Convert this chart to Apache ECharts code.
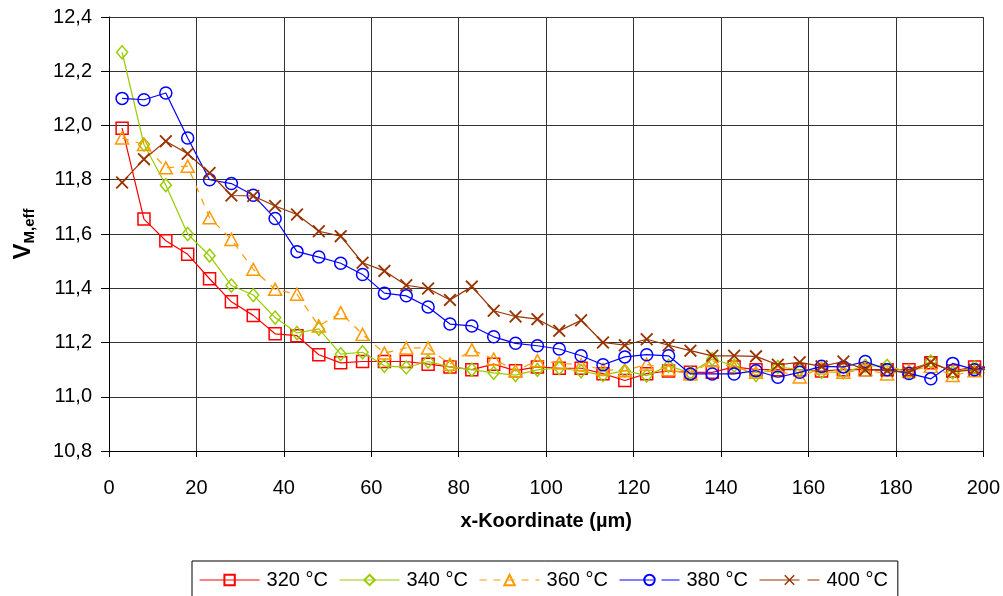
<!DOCTYPE html>
<html>
<head>
<meta charset="utf-8">
<script src="https://cdn.jsdelivr.net/npm/echarts@6/dist/echarts.min.js"></script>
<style>
  html, body { margin: 0; padding: 0; background: #fff; }
  #chart { width: 1003px; height: 596px; }
</style>
</head>
<body>
<div id="chart"></div>
<script>
// Effective molar volume along the x coordinate for five temperatures
const xPositions = [3, 8, 13, 18, 23, 28, 33, 38, 43, 48, 53, 58, 63, 68, 73, 78, 83, 88, 93, 98,
  103, 108, 113, 118, 123, 128, 133, 138, 143, 148, 153, 158, 163, 168, 173, 178, 183, 188, 193, 198, 203];

const seriesNames = ['320 °C', '340 °C', '360 °C', '380 °C', '400 °C'];

const v320 = [11.99, 11.655, 11.575, 11.525, 11.435, 11.35, 11.30, 11.232, 11.225, 11.155,
  11.125, 11.13, 11.13, 11.13, 11.12, 11.11, 11.10, 11.12, 11.096, 11.11,
  11.105, 11.105, 11.085, 11.06, 11.085, 11.095, 11.09, 11.09, 11.11, 11.10,
  11.10, 11.10, 11.095, 11.10, 11.10, 11.10, 11.10, 11.125, 11.095, 11.11, 11.11];

const v340 = [12.27, 11.93, 11.78, 11.60, 11.52, 11.41, 11.375, 11.292, 11.235, 11.25,
  11.157, 11.164, 11.114, 11.108, 11.13, 11.11, 11.10, 11.088, 11.08, 11.099,
  11.106, 11.094, 11.08, 11.096, 11.078, 11.114, 11.088, 11.139, 11.115, 11.08,
  11.11, 11.10, 11.092, 11.09, 11.114, 11.114, 11.09, 11.13, 11.09, 11.108, 11.10];

const v360 = [11.954, 11.93, 11.844, 11.85, 11.66, 11.58, 11.47, 11.396, 11.378, 11.261,
  11.31, 11.23, 11.161, 11.18, 11.18, 11.12, 11.173, 11.139, 11.096, 11.133,
  11.124, 11.118, 11.10, 11.096, 11.12, 11.10, 11.084, 11.133, 11.108, 11.09,
  11.096, 11.073, 11.106, 11.09, 11.10, 11.084, 11.096, 11.112, 11.078, 11.096, 11.08];

const v380 = [12.10, 12.095, 12.12, 11.954, 11.80, 11.786, 11.743, 11.657, 11.535, 11.515,
  11.492, 11.451, 11.382, 11.372, 11.331, 11.268, 11.261, 11.221, 11.197, 11.188,
  11.176, 11.151, 11.118, 11.147, 11.155, 11.151, 11.084, 11.084, 11.084, 11.096,
  11.072, 11.09, 11.112, 11.11, 11.13, 11.10, 11.086, 11.066, 11.123, 11.10, 11.115];

const v400 = [11.79, 11.876, 11.942, 11.896, 11.825, 11.742, 11.74, 11.703, 11.672, 11.61,
  11.592, 11.494, 11.464, 11.411, 11.399, 11.357, 11.406, 11.317, 11.296, 11.286,
  11.243, 11.282, 11.20, 11.19, 11.212, 11.19, 11.17, 11.151, 11.151, 11.149,
  11.118, 11.127, 11.112, 11.13, 11.10, 11.096, 11.09, 11.127, 11.092, 11.10, 11.10];

const xTicks = { min: 0, max: 200, step: 20 };
const yTicks = { min: 10.8, max: 12.4, step: 0.2 };

const FONT = 'Arial, "Liberation Sans", sans-serif';
const X_MARK = 'path://M0,1L1,0L5,4L9,0L10,1L6,5L10,9L9,10L5,6L1,10L0,9L4,5Z';

const styles = [
  { color: '#FF0000', symbol: 'rect', size: 12, dash: 'solid', legendDash: 'solid', hollow: true },
  { color: '#99CC00', symbol: 'diamond', size: [11, 13], dash: 'solid', legendDash: 'solid', hollow: true },
  { color: '#FF9900', symbol: 'triangle', size: [13, 12], dash: [7, 7], legendDash: [7, 7], hollow: true },
  { color: '#0000FF', symbol: 'circle', size: 12, dash: 'solid', legendDash: [34, 8], hollow: true },
  { color: '#993300', symbol: X_MARK, size: 13, dash: 'solid', legendDash: [40, 8], hollow: false }
];

const allValues = [v320, v340, v360, v380, v400];

function buildData(values) {
  // the last point lies just past the axis end: line only, no marker
  return values.map((v, i) => {
    const item = { value: [xPositions[i], v] };
    if (xPositions[i] > xTicks.max) item.symbol = 'none';
    return item;
  });
}

const series = allValues.map((vals, k) => {
  const s = styles[k];
  return {
    name: seriesNames[k],
    type: 'line',
    data: buildData(vals),
    clip: false,
    symbol: s.symbol,
    symbolSize: s.size,
    showAllSymbol: true,
    z: 2 + k,
    lineStyle: { color: s.color, width: 1.2, type: s.dash },
    itemStyle: s.hollow
      ? { color: 'rgba(0,0,0,0)', borderColor: s.color, borderWidth: 1.5 }
      : { color: s.color, borderWidth: 0 },
    emphasis: { disabled: true }
  };
});

const legendData = seriesNames.map((name, k) => ({
  name: name,
  lineStyle: { color: styles[k].color, width: 1.2, type: styles[k].legendDash }
}));

const chart = echarts.init(document.getElementById('chart'), null, { renderer: 'canvas' });

chart.setOption({
  animation: false,
  backgroundColor: '#ffffff',
  textStyle: { fontFamily: FONT, color: '#000' },
  grid: { left: 109, right: 17, top: 17, bottom: 145 },
  xAxis: {
    type: 'value',
    min: xTicks.min,
    max: xTicks.max,
    interval: xTicks.step,
    name: 'x-Koordinate (µm)',
    nameLocation: 'middle',
    nameGap: 60,
    nameTextStyle: { fontFamily: FONT, fontSize: 20, fontWeight: 'bold', color: '#000' },
    axisLine: { show: true, onZero: false, lineStyle: { color: '#000', width: 1 } },
    axisTick: { show: true, length: 6, lineStyle: { color: '#000' } },
    axisLabel: { fontFamily: FONT, fontSize: 20, color: '#000', margin: 27 },
    splitLine: { show: true, lineStyle: { color: '#333', width: 1 } }
  },
  yAxis: {
    type: 'value',
    min: yTicks.min,
    max: yTicks.max,
    interval: yTicks.step,
    name: '{v|V}{s|M,eff}',
    nameLocation: 'middle',
    nameGap: 72,
    nameRotate: 90,
    nameTextStyle: {
      rich: {
        v: { fontFamily: FONT, fontSize: 24, fontWeight: 'bold', color: '#000', lineHeight: 27 },
        s: { fontFamily: FONT, fontSize: 15, fontWeight: 'bold', color: '#000', lineHeight: 16, verticalAlign: 'bottom' }
      }
    },
    axisLine: { show: true, onZero: false, lineStyle: { color: '#000', width: 1 } },
    axisTick: { show: true, length: 8, lineStyle: { color: '#000' } },
    axisLabel: {
      fontFamily: FONT, fontSize: 20, color: '#000', margin: 17,
      formatter: v => v.toFixed(1).replace('.', ',')
    },
    splitLine: { show: true, lineStyle: { color: '#333', width: 1 } }
  },
  legend: {
    left: 192,
    top: 561,
    orient: 'horizontal',
    padding: [9, 10, 14, 7],
    itemGap: 11,
    itemWidth: 60,
    itemHeight: 13,
    borderColor: '#000',
    borderWidth: 1,
    backgroundColor: '#fff',
    textStyle: { fontFamily: FONT, fontSize: 20, color: '#000', padding: [0, 0, 0, 2] },
    data: legendData
  },
  series: series
});
</script>
</body>
</html>
